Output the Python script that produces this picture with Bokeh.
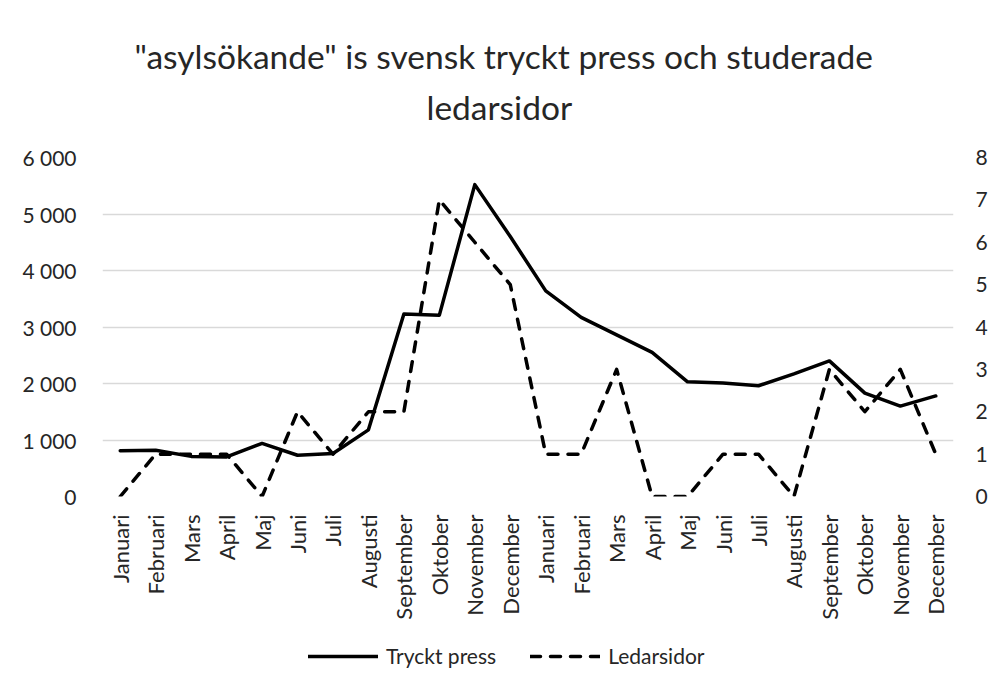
from math import pi
from bokeh.plotting import figure
from bokeh.layouts import column
from bokeh.models import (Title, Legend, LegendItem, LinearAxis, Range1d,
                          FixedTicker, ColumnDataSource)
from bokeh.embed import file_html
from bokeh.resources import INLINE

# ---- data ----
months = ["Januari", "Februari", "Mars", "April", "Maj", "Juni", "Juli",
          "Augusti", "September", "Oktober", "November", "December",
          "Januari", "Februari", "Mars", "April", "Maj", "Juni", "Juli",
          "Augusti", "September", "Oktober", "November", "December"]
tryckt_press = [810, 820, 710, 700, 940, 730, 760, 1180, 3230, 3210, 5520, 4600,
                3640, 3170, 2860, 2550, 2030, 2010, 1960, 2170, 2400, 1830, 1600, 1780]
ledarsidor = [0, 1, 1, 1, 0, 2, 1, 2, 2, 7, 6, 5,
              1, 1, 3, 0, 0, 1, 1, 0, 3, 2, 3, 1]
left_ticks = [0, 1000, 2000, 3000, 4000, 5000, 6000]
left_tick_labels = ["0", "1 000", "2 000", "3 000", "4 000", "5 000", "6 000"]
right_ticks = [0, 1, 2, 3, 4, 5, 6, 7, 8]
title_lines = ['"asylsökande" is svensk tryckt press och studerade', "ledarsidor"]
series_names = ["Tryckt press", "Ledarsidor"]

FONT = "Lato"
TXT = "#262626"

idx = list(range(len(months)))
src = ColumnDataSource(dict(x=idx, tp=tryckt_press, ls=ledarsidor))

p = figure(frame_width=851, frame_height=339,
           x_range=Range1d(-0.5, len(months) - 0.5),
           y_range=Range1d(0, 6000), output_backend="svg", toolbar_location=None,
           min_border_left=102, min_border_right=37, min_border_top=157,
           min_border_bottom=130)
p.outline_line_color = None
p.extra_y_ranges = {"right": Range1d(0, 8)}

# titles (added nearest-first)
p.title.text = ""
p.add_layout(Title(text=title_lines[1], align="left", offset=324,
                   text_font=FONT, text_font_size="33.5px", text_color=TXT,
                   text_font_style="normal", standoff=62,
                   text_line_height=0.75), "above")
p.add_layout(Title(text=title_lines[0], align="left", offset=32,
                   text_font=FONT, text_font_size="33.5px", text_color=TXT,
                   text_font_style="normal", standoff=-45), "above")

# grid
p.xgrid.visible = False
p.ygrid.ticker = FixedTicker(ticks=left_ticks)
p.ygrid.grid_line_color = "#d9d9d9"
p.ygrid.grid_line_width = 1.5

# left axis
ya = p.yaxis[0]
ya.ticker = FixedTicker(ticks=left_ticks)
ya.major_label_overrides = {t: l for t, l in zip(left_ticks, left_tick_labels)}

# right axis
ra = LinearAxis(y_range_name="right", ticker=FixedTicker(ticks=right_ticks))
p.add_layout(ra, "right")

# x axis
xa = p.xaxis[0]
xa.ticker = FixedTicker(ticks=idx)
xa.major_label_overrides = {i: m for i, m in enumerate(months)}
xa.major_label_orientation = pi / 2

for ax in [ya, ra, xa]:
    ax.axis_line_color = None
    ax.major_tick_line_color = None
    ax.minor_tick_line_color = None
    ax.major_label_text_font = FONT
    ax.major_label_text_font_size = "21px"
    ax.major_label_text_color = TXT
xa.major_label_text_font_size = "22px"
ya.major_label_standoff = 20
ra.major_label_standoff = 16
xa.major_label_standoff = 12

solid_style = dict(line_color="black", line_width=3.5, line_join="round", line_cap="round")
dash_style = dict(line_color="black", line_width=3.5, line_dash="10 10",
                  line_join="round", line_cap="round")

p.line("x", "tp", source=src, **solid_style)
p.line("x", "ls", source=src, y_range_name="right", **dash_style)

# legend strip below the chart (its lines lie outside its visible range)
pl = figure(width=990, height=60, output_backend="svg", toolbar_location=None,
            x_axis_type=None, y_axis_type=None, min_border=0,
            x_range=Range1d(-0.5, len(months) - 0.5), y_range=Range1d(-20, -10))
pl.outline_line_color = None
pl.grid.visible = False
l1 = pl.line("x", "tp", source=src, **solid_style)
l2 = pl.line("x", "ls", source=src, **dash_style)
legend = Legend(items=[LegendItem(label=series_names[0], renderers=[l1]),
                       LegendItem(label=series_names[1], renderers=[l2])],
                orientation="horizontal", location=(206, 18),
                glyph_width=70, label_standoff=8, spacing=34,
                label_text_font=FONT, label_text_font_size="21px",
                label_text_color=TXT, border_line_color=None,
                background_fill_alpha=0, margin=0, padding=0)
pl.add_layout(legend)

layout = column(p, pl, spacing=0)
open("out.html", "w").write(file_html(layout, INLINE))
